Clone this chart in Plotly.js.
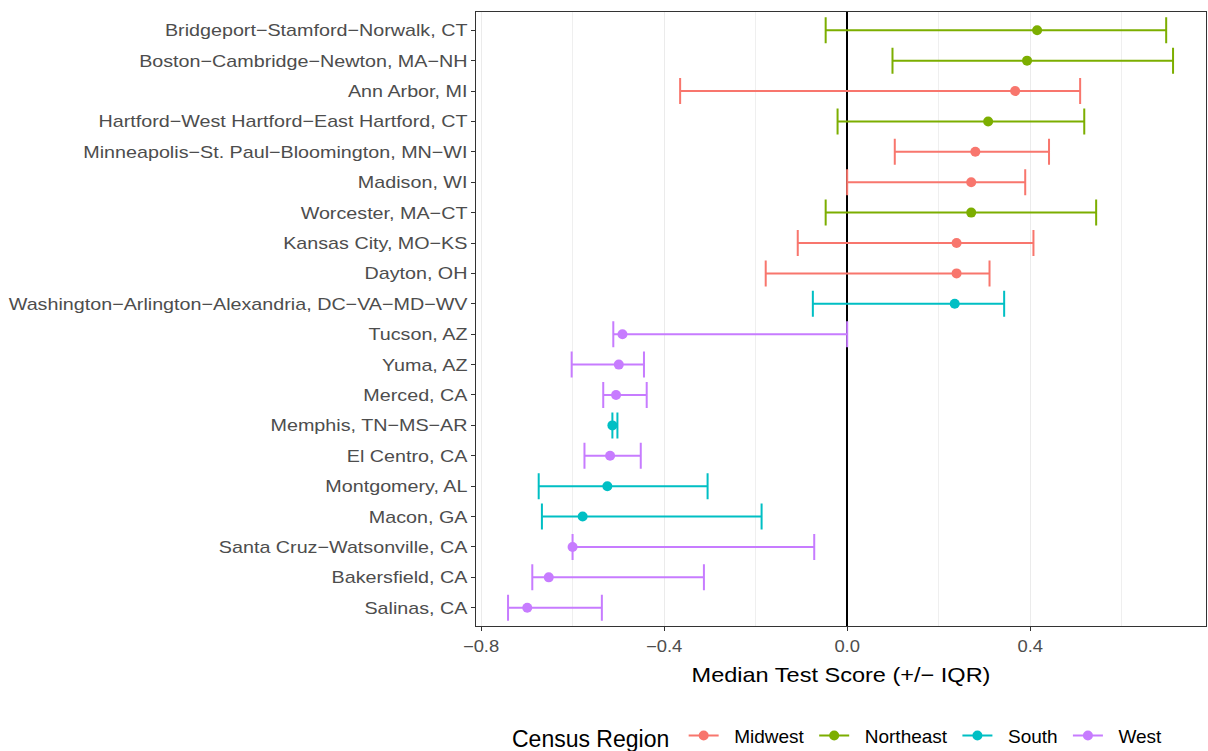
<!DOCTYPE html>
<html><head><meta charset="utf-8">
<script src="https://cdn.plot.ly/plotly-3.0.1.min.js"></script>
<style>html,body{margin:0;padding:0;background:#fff}</style>
</head><body><div id="chart" style="width:1208px;height:751px"></div>
<script>
const metros = ["Bridgeport−Stamford−Norwalk, CT","Boston−Cambridge−Newton, MA−NH","Ann Arbor, MI","Hartford−West Hartford−East Hartford, CT","Minneapolis−St. Paul−Bloomington, MN−WI","Madison, WI","Worcester, MA−CT","Kansas City, MO−KS","Dayton, OH","Washington−Arlington−Alexandria, DC−VA−MD−WV","Tucson, AZ","Yuma, AZ","Merced, CA","Memphis, TN−MS−AR","El Centro, CA","Montgomery, AL","Macon, GA","Santa Cruz−Watsonville, CA","Bakersfield, CA","Salinas, CA"];
const region = ["Northeast","Northeast","Midwest","Northeast","Midwest","Midwest","Northeast","Midwest","Midwest","South","West","West","West","South","West","South","South","West","West","West"];
const median = [0.415,0.393,0.367,0.308,0.280,0.271,0.271,0.239,0.239,0.235,-0.491,-0.499,-0.505,-0.513,-0.518,-0.524,-0.578,-0.600,-0.652,-0.699];
const low = [-0.047,0.099,-0.365,-0.021,0.104,0.0,-0.047,-0.108,-0.178,-0.075,-0.511,-0.602,-0.533,-0.513,-0.574,-0.674,-0.667,-0.600,-0.688,-0.741];
const high = [0.697,0.712,0.509,0.518,0.441,0.389,0.544,0.407,0.311,0.343,0.0,-0.444,-0.438,-0.502,-0.451,-0.305,-0.187,-0.072,-0.313,-0.536];
const regions = ["Midwest","Northeast","South","West"];
const colors = {"Midwest":"#F8766D","Northeast":"#7CAE00","South":"#00BFC4","West":"#C77CFF"};
const xTickVals = [-0.8,-0.4,0,0.4];
const xTickText = ['−0.8','−0.4','0.0','0.4'];

const traces = [];
regions.forEach(r => {
  const idx = metros.map((m,i)=>i).filter(i => region[i] === r);
  traces.push({
    type:'scatter', mode:'markers', name:r, showlegend:false,
    x: idx.map(i=>median[i]), y: idx.map(i=>metros[i]),
    marker:{color:colors[r], size:10},
    error_x:{type:'data', symmetric:false,
      array: idx.map(i=>high[i]-median[i]),
      arrayminus: idx.map(i=>median[i]-low[i]),
      color:colors[r], thickness:2, width:13},
    hoverinfo:'x+y'
  });
});
const NB = '\u00a0';
regions.forEach(r => {
  traces.push({type:'scatter', mode:'lines+markers', name:NB+NB+r+NB, x:[null], y:[null],
    line:{color:colors[r], width:2}, marker:{color:colors[r], size:10}, showlegend:true, hoverinfo:'skip'});
});

const layout = {
  width:1208, height:751,
  margin:{l:476, r:2, t:12, b:125, autoexpand:false},
  paper_bgcolor:'#fff', plot_bgcolor:'#fff',
  font:{family:'Liberation Sans, Arial, sans-serif', color:'#000'},
  showlegend:true,
  xaxis:{range:[-0.811,0.784], tickvals:xTickVals, ticktext:xTickText, automargin:false,
    showgrid:true, gridcolor:'#ebebeb', gridwidth:1,
    minor:{tickvals:[-0.6,-0.2,0.2,0.6], showgrid:true, gridcolor:'#efefef', gridwidth:1, ticks:''},
    zeroline:true, zerolinecolor:'#000', zerolinewidth:2,
    showline:true, mirror:true, linecolor:'#333', linewidth:1.3,
    ticks:'outside', ticklen:4, tickcolor:'#333', tickwidth:1.2,
    ticklabelstandoff:2,
    tickfont:{size:16, color:'#4d4d4d'},
    title:{text:'Median Test Score (+/− IQR)', font:{size:21, color:'#000'}, standoff:12}},
  yaxis:{type:'category', categoryorder:'array', categoryarray:metros, range:[19.6,-0.6], automargin:false,
    showgrid:false, zeroline:false,
    showline:true, mirror:true, linecolor:'#333', linewidth:1.3,
    ticks:'outside', ticklen:4, tickcolor:'#333', tickwidth:1.2,
    tickfont:{size:17, color:'#4d4d4d'}},
  legend:{orientation:'h', x:0.5, xanchor:'center', yref:'container', y:0.019, yanchor:'middle',
    title:{text:'Census Region ', side:'left', font:{size:23, color:'#000'}},
    font:{size:19, color:'#000'}, bgcolor:'rgba(0,0,0,0)'}
};

function stretch(sel, f) {
  document.querySelectorAll(sel).forEach(t => {
    const L = t.getComputedTextLength();
    if (L > 0) { t.setAttribute('textLength', (L*f).toFixed(1)); t.setAttribute('lengthAdjust','spacingAndGlyphs'); }
  });
}
Plotly.newPlot('chart', traces, layout, {displayModeBar:false}).then(() => {
  stretch('#chart .ytick text', 1.16);
  stretch('#chart .xtick text', 1.15);
  stretch('#chart .g-xtitle text', 1.12);
});
</script></body></html>
